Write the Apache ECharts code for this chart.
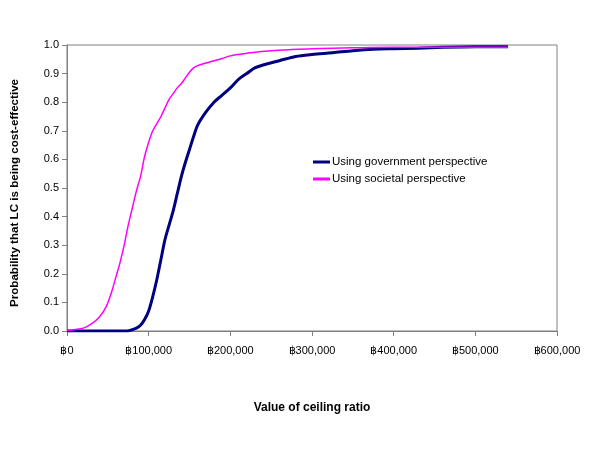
<!DOCTYPE html>
<html>
<head>
<meta charset="utf-8">
<script src="https://cdn.jsdelivr.net/npm/echarts@6/dist/echarts.min.js"></script>
<style>html,body{margin:0;padding:0;background:#fff;}#c{width:600px;height:450px;}</style>
</head>
<body>
<div id="c"></div>
<script>
var seriesNames = ['Using government perspective', 'Using societal perspective'];
var govX = [0, 50000, 70000, 77000, 85000, 90000, 95000, 100000, 105000, 110000, 115000, 120000, 125000, 130000, 135000, 140000, 145000, 150000, 155000, 160000, 170000, 180000, 190000, 200000, 210000, 220000, 230000, 240000, 260000, 280000, 300000, 325000, 350000, 375000, 400000, 430000, 460000, 500000, 540000];
var govY = [0, 0, 0, 0.002, 0.01, 0.02, 0.04, 0.07, 0.12, 0.18, 0.25, 0.32, 0.37, 0.42, 0.48, 0.54, 0.59, 0.635, 0.68, 0.72, 0.765, 0.80, 0.825, 0.85, 0.88, 0.90, 0.92, 0.93, 0.945, 0.96, 0.967, 0.973, 0.98, 0.985, 0.987, 0.989, 0.992, 0.994, 0.994];
var socX = [0, 10000, 20000, 30000, 40000, 48000, 55000, 60000, 65000, 70000, 75000, 80000, 85000, 90000, 95000, 100000, 105000, 110000, 115000, 120000, 125000, 130000, 135000, 140000, 145000, 150000, 155000, 160000, 170000, 180000, 190000, 200000, 210000, 225000, 250000, 275000, 300000, 350000, 400000, 540000];
var socY = [0.002, 0.005, 0.01, 0.025, 0.05, 0.085, 0.14, 0.19, 0.24, 0.30, 0.37, 0.43, 0.49, 0.54, 0.61, 0.66, 0.70, 0.725, 0.75, 0.78, 0.81, 0.83, 0.85, 0.865, 0.885, 0.905, 0.92, 0.928, 0.937, 0.945, 0.953, 0.962, 0.967, 0.973, 0.98, 0.984, 0.987, 0.99, 0.992, 0.992];
var xTitle = 'Value of ceiling ratio';
var yTitle = 'Probability that LC is being cost-effective';

function pairs(xs, ys) { return xs.map(function (x, i) { return [x, ys[i]]; }); }
function baht(v) { return '\u0E3F' + String(v).replace(/\B(?=(\d{3})+(?!\d))/g, ','); }

var font = 'Liberation Sans, Arial, sans-serif';
var chart = echarts.init(document.getElementById('c'), null, { renderer: 'canvas' });
chart.setOption({
  animation: false,
  backgroundColor: '#ffffff',
  textStyle: { fontFamily: font },
  grid: { left: 67, right: 43, top: 45, bottom: 119, show: true, borderColor: '#808080', borderWidth: 1, backgroundColor: 'transparent' },
  legend: {
    orient: 'vertical', left: 313, top: 156, padding: 0, itemWidth: 17, itemHeight: 3, itemGap: 5,
    icon: 'rect',
    textStyle: { fontFamily: font, fontSize: 11.5, color: '#000', padding: [0, 0, 0, -3] },
    data: seriesNames
  },
  xAxis: {
    type: 'value', min: 0, max: 600000, interval: 100000,
    name: xTitle, nameLocation: 'middle', nameGap: 71,
    nameTextStyle: { fontFamily: font, fontSize: 12, fontWeight: 'bold', color: '#000' },
    axisLine: { lineStyle: { color: '#808080' } },
    axisTick: { show: true, length: 5, lineStyle: { color: '#808080' } },
    axisLabel: { formatter: baht, fontFamily: font, fontSize: 11, color: '#000', margin: 14 },
    splitLine: { show: false }
  },
  yAxis: {
    type: 'value', min: 0, max: 1, interval: 0.1,
    name: yTitle, nameLocation: 'middle', nameGap: 46,
    nameTextStyle: { fontFamily: font, fontSize: 11.6, fontWeight: 'bold', color: '#000', padding: [0, 10, 0, 0] },
    axisLine: { show: true, lineStyle: { color: '#808080' } },
    axisTick: { show: true, length: 5, lineStyle: { color: '#808080' } },
    axisLabel: { formatter: function (v) { return v.toFixed(1); }, fontFamily: font, fontSize: 11, color: '#000', margin: 8 },
    splitLine: { show: false }
  },
  series: [
    { name: seriesNames[0], type: 'line', data: pairs(govX, govY), showSymbol: false, symbol: 'none', smooth: 0.3,
      lineStyle: { color: '#000080', width: 3 }, itemStyle: { color: '#000080' } },
    { name: seriesNames[1], type: 'line', data: pairs(socX, socY), showSymbol: false, symbol: 'none', smooth: 0.3,
      lineStyle: { color: '#FF00FF', width: 1.5 }, itemStyle: { color: '#FF00FF' } }
  ]
});
</script>
</body>
</html>
